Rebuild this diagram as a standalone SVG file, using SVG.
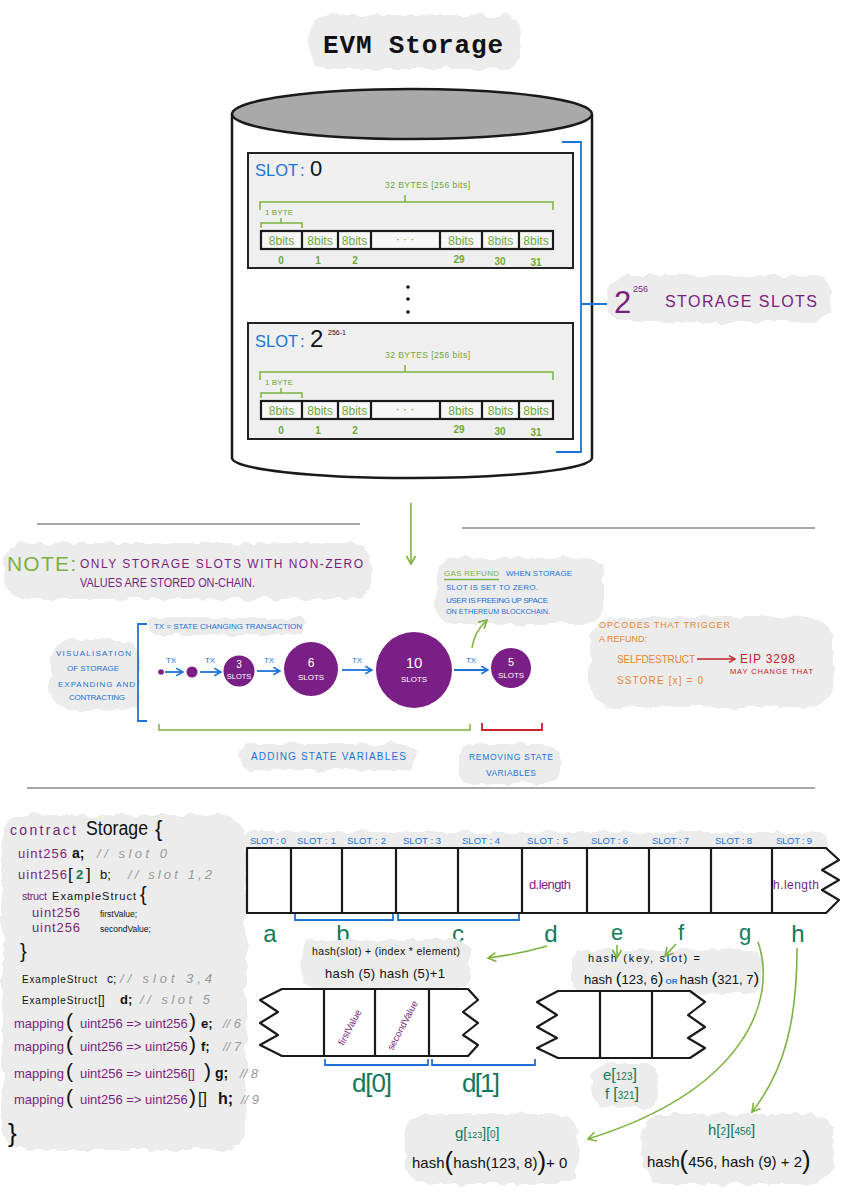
<svg xmlns="http://www.w3.org/2000/svg" width="848" height="1200" viewBox="0 0 848 1200">
<style>
text{font-family:"Liberation Sans","DejaVu Sans",Arial,sans-serif}
.mono{font-family:"Liberation Mono","DejaVu Sans Mono",monospace}
.cl{fill:#ececec;filter:url(#fz)}
.bx{fill:#efefef;stroke:#222;stroke-width:2}
.gb{fill:none;stroke:#7cb342;stroke-width:1.5}
.bb{fill:none;stroke:#1e73d8;stroke-width:1.8}
.rb{fill:none;stroke:#c8202a;stroke-width:1.8}
.cell{fill:#fff;stroke:#1a1a1a;stroke-width:2.2;stroke-linejoin:round}
.ln{fill:none;stroke:#1a1a1a;stroke-width:2.2}
.g8{fill:#6fa83a;font-size:12px;text-anchor:middle}
.gn{fill:#6fa83a;font-size:10px;font-weight:bold;text-anchor:middle}
.bl{fill:#1e73d8}
.pu{fill:#7a1f80}
.tl{fill:#13795b}
.or{fill:#e8843a}
.rd{fill:#c8202a}
.gr{fill:#7cb342}
.cm{fill:#9a9a9a;font-style:italic}
.k{fill:#111}
.wt{fill:#fff;text-anchor:middle}
.sep{stroke:#8a8a8a;stroke-width:1.5}
.ga{fill:none;stroke:#7cb342;stroke-width:1.6}
.ba{fill:none;stroke:#1e73d8;stroke-width:1.8}
.ra{fill:none;stroke:#c8202a;stroke-width:1.6}
.sl{font-size:9.5px;fill:#1e73d8}
.vz{font-size:8px;fill:#1e73d8}
.crc{fill:#7a1f85}
.mid{text-anchor:middle}
</style>
<defs>
<filter id="fz" x="-8%" y="-20%" width="116%" height="140%">
<feTurbulence type="fractalNoise" baseFrequency="0.07" numOctaves="2" seed="7" result="n"/>
<feDisplacementMap in="SourceGraphic" in2="n" scale="10" xChannelSelector="R" yChannelSelector="G"/>
</filter>
<marker id="mg" viewBox="0 0 12 12" refX="10" refY="6" markerWidth="12" markerHeight="12" markerUnits="userSpaceOnUse" orient="auto"><path d="M2,1.5 L10,6 L2,10.5" fill="none" stroke="#7cb342" stroke-width="1.6"/></marker>
<marker id="mb" viewBox="0 0 12 12" refX="10" refY="6" markerWidth="10" markerHeight="10" markerUnits="userSpaceOnUse" orient="auto"><path d="M2,1.5 L10,6 L2,10.5" fill="none" stroke="#1e73d8" stroke-width="1.8"/></marker>
<marker id="mr" viewBox="0 0 12 12" refX="10" refY="6" markerWidth="9" markerHeight="9" markerUnits="userSpaceOnUse" orient="auto"><path d="M2,1.5 L10,6 L2,10.5" fill="none" stroke="#c8202a" stroke-width="1.8"/></marker>
<g id="slotrow">
<text x="385" y="188" fill="#6fa83a" font-size="8.5" textLength="85">32 BYTES [256 bits]</text>
<path class="gb" d="M260,210 V202 H553 V210 M405,202 V195"/>
<text x="265" y="215" fill="#6fa83a" font-size="8" textLength="28">1 BYTE</text>
<path class="gb" d="M261,228 V223 H302 V228 M281,223 V218"/>
<rect x="261" y="231" width="292" height="18" fill="#f7f7f7" stroke="#1a1a1a" stroke-width="2.2"/>
<path class="ln" d="M302,231 V249 M338,231 V249 M371,231 V249 M440,231 V249 M482,231 V249 M519,231 V249"/>
<text class="g8" x="281.5" y="245">8bits</text>
<text class="g8" x="320" y="245">8bits</text>
<text class="g8" x="354.5" y="245">8bits</text>
<text class="g8" x="405" y="243" fill="#8a9a80">·  ·  ·</text>
<text class="g8" x="461" y="245">8bits</text>
<text class="g8" x="500.5" y="245">8bits</text>
<text class="g8" x="536" y="245">8bits</text>
<text class="gn" x="281" y="264">0</text>
<text class="gn" x="318" y="264">1</text>
<text class="gn" x="355" y="264">2</text>
<text class="gn" x="459" y="263">29</text>
<text class="gn" x="500" y="265">30</text>
<text class="gn" x="536" y="266" font-size="11">31</text>
</g>
</defs>
<rect width="848" height="1200" fill="#fff"/>

<g id="title">
<rect class="cl" x="310" y="15" width="212" height="54" rx="18"/>
<text x="323" y="53" class="mono" font-weight="bold" font-size="26" fill="#111" textLength="180">EVM Storage</text>
</g>

<g id="cylinder">
<path d="M232,114 V458 A180,20 0 0 0 592,458 V114" fill="#fff" stroke="#1a1a1a" stroke-width="2.5"/>
<ellipse cx="412" cy="114" rx="180" ry="25" fill="#a9a9a9" stroke="#1a1a1a" stroke-width="2.5"/>
</g>

<g id="slot0">
<rect class="bx" x="248" y="153" width="325" height="115"/>
<text y="176" class="bl" font-size="16.5"><tspan x="255">SLOT</tspan><tspan x="300">:</tspan><tspan x="310" class="k" font-size="22">0</tspan></text>
<use href="#slotrow"/>
</g>

<g id="dots">
<circle cx="408" cy="287" r="1.8" fill="#111"/>
<circle cx="408" cy="299" r="1.8" fill="#111"/>
<circle cx="408" cy="312" r="1.8" fill="#111"/>
</g>

<g id="slotlast">
<rect class="bx" x="248" y="323" width="325" height="116"/>
<text y="347" class="bl" font-size="16.5"><tspan x="255">SLOT</tspan><tspan x="300">:</tspan><tspan x="310" class="k" font-size="24">2</tspan><tspan x="328" dy="-12" class="k" font-size="7">256-1</tspan></text>
<use href="#slotrow" y="170"/>
</g>

<g id="slotsbracket">
<path class="bb" d="M562,142 H581 V452 H556 M581,304 H608"/>
</g>

<g id="storageslots">
<rect class="cl" x="608" y="276" width="222" height="46" rx="16"/>
<text x="614" y="313" class="pu" font-size="31">2</text>
<text x="633" y="292" class="pu" font-size="9">256</text>
<text x="665" y="307" class="pu" font-size="16" textLength="152">STORAGE SLOTS</text>
</g>

<g id="separators">
<line class="sep" x1="37" y1="524" x2="360" y2="524"/>
<line class="sep" x1="462" y1="528" x2="815" y2="528"/>
<line class="sep" x1="27" y1="788" x2="815" y2="788"/>
</g>

<g id="note">
<rect class="cl" x="4" y="543" width="368" height="56" rx="22"/>
<text x="7" y="571" class="gr" font-size="21" textLength="69">NOTE:</text>
<text x="80" y="568" class="pu" font-size="12" textLength="283">ONLY STORAGE SLOTS WITH NON-ZERO</text>
<text x="80" y="587" class="pu" font-size="12" textLength="175" lengthAdjust="spacingAndGlyphs">VALUES ARE STORED ON-CHAIN.</text>
</g>

<g id="gasrefund">
<rect class="cl" x="436" y="558" width="168" height="66" rx="20"/>
<text x="444" y="576" class="gr" font-size="8" textLength="55">GAS REFUND</text>
<line x1="444" y1="579.5" x2="499" y2="579.5" stroke="#7cb342" stroke-width="1.5"/>
<text x="506" y="576" class="bl" font-size="8" textLength="66">WHEN STORAGE</text>
<text x="446" y="590" class="bl" font-size="8" textLength="92">SLOT IS SET TO ZERO.</text>
<text x="446" y="603" class="bl" font-size="8" textLength="102">USER IS FREEING UP SPACE</text>
<text x="446" y="614" class="bl" font-size="8" textLength="104" lengthAdjust="spacingAndGlyphs">ON ETHEREUM BLOCKCHAIN.</text>
</g>

<g id="visualisation">
<rect class="cl" x="50" y="640" width="90" height="70" rx="20"/>
<rect class="cl" x="150" y="618" width="156" height="16" rx="7"/>
<text x="56" y="656" class="vz" font-size="9" textLength="75">VISUALISATION</text>
<text x="67" y="671" class="vz" font-size="9" textLength="52">OF STORAGE</text>
<text x="58" y="687" class="vz" font-size="9" textLength="77">EXPANDING AND</text>
<text x="69" y="700" class="vz" font-size="9" textLength="56">CONTRACTING</text>
<path class="bb" d="M147,624 H138 V721 H147"/>
<text x="154" y="629" class="vz" textLength="148">TX = STATE CHANGING TRANSACTION</text>
<text x="171" y="663" class="vz mid">TX</text>
<text x="210" y="663" class="vz mid">TX</text>
<text x="269" y="663" class="vz mid">TX</text>
<text x="357" y="663" class="vz mid">TX</text>
<text x="471" y="663" class="vz mid">TX</text>
</g>

<g id="state0"><circle class="crc" cx="161" cy="672" r="2.8"/></g>
<g id="state1"><circle class="crc" cx="192" cy="672" r="5.5"/></g>
<g id="state3">
<circle class="crc" cx="239" cy="671" r="15.5"/>
<text class="wt" x="239" y="668" font-size="10">3</text>
<text class="wt" x="239" y="679" font-size="7.5">SLOTS</text>
</g>
<g id="state6">
<circle class="crc" cx="311" cy="669" r="27"/>
<text class="wt" x="311" y="667" font-size="12">6</text>
<text class="wt" x="311" y="680" font-size="8">SLOTS</text>
</g>
<g id="state10">
<circle class="crc" cx="414" cy="670" r="38"/>
<text class="wt" x="414" y="668" font-size="15">10</text>
<text class="wt" x="414" y="682" font-size="8">SLOTS</text>
</g>
<g id="state5">
<circle class="crc" cx="511" cy="668" r="20"/>
<text class="wt" x="511" y="666" font-size="11">5</text>
<text class="wt" x="511" y="678" font-size="8">SLOTS</text>
</g>

<g id="addremove">
<path class="gb" d="M159,724 V730 H470 V724"/>
<path class="rb" d="M482,723 V730 H542 V723"/>
<rect class="cl" x="240" y="744" width="176" height="26" rx="12"/>
<rect class="cl" x="460" y="744" width="100" height="40" rx="14"/>
<text x="251" y="760" class="bl" font-size="10" textLength="155">ADDING STATE VARIABLES</text>
<text x="469" y="760" class="bl" font-size="8.5" textLength="84">REMOVING STATE</text>
<text x="486" y="776" class="bl" font-size="8.5" textLength="50">VARIABLES</text>
</g>

<g id="opcodes">
<rect class="cl" x="590" y="617" width="244" height="90" rx="26"/>
<text x="599" y="628" class="or" font-size="9" textLength="131">OPCODES THAT TRIGGER</text>
<text x="599" y="642" class="or" font-size="9" textLength="48" lengthAdjust="spacingAndGlyphs">A REFUND:</text>
<text x="617" y="663" class="or" font-size="10" textLength="78">SELFDESTRUCT</text>
<text x="740" y="663" class="rd" font-size="12" textLength="55">EIP 3298</text>
<text x="730" y="674" class="rd" font-size="7.5" textLength="83">MAY CHANGE THAT</text>
<text x="617" y="684" class="or" font-size="10" textLength="86">SSTORE [x] = 0</text>
</g>

<g id="contract">
<rect class="cl" x="2" y="815" width="244" height="335" rx="24"/>
<text x="10" y="835" class="pu" font-size="14" textLength="66">contract</text>
<text x="86" y="835" class="k" font-size="20" textLength="62" lengthAdjust="spacingAndGlyphs">Storage</text>
<text x="155" y="836" class="k" font-size="22">{</text>
<text x="18" y="858" class="pu" font-size="13" textLength="49">uint256</text>
<text x="72" y="858" class="k" font-size="14" font-weight="bold">a;</text>
<text x="97" y="858" class="cm" font-size="13" textLength="70">// slot 0</text>
<text x="18" y="879" class="pu" font-size="13" textLength="49">uint256</text>
<text x="68" y="880" class="k" font-size="17">[</text>
<text x="76" y="879" class="tl" font-size="13" font-weight="bold">2</text>
<text x="86" y="880" class="k" font-size="17">]</text>
<text x="100" y="879" class="k" font-size="13">b;</text>
<text x="128" y="879" class="cm" font-size="13" textLength="84">// slot 1,2</text>
<text x="22" y="900" class="pu" font-size="11" textLength="25">struct</text>
<text x="52" y="900" class="k" font-size="11" textLength="84">ExampleStruct</text>
<text x="140" y="901" class="k" font-size="20">{</text>
<text x="32" y="917" class="pu" font-size="13" textLength="48">uint256</text>
<text x="100" y="917" class="k" font-size="8.5">firstValue;</text>
<text x="32" y="932" class="pu" font-size="13" textLength="48">uint256</text>
<text x="100" y="932" class="k" font-size="8.5">secondValue;</text>
<text x="20" y="958" class="k" font-size="20">}</text>
<text x="22" y="983" class="k" font-size="10" textLength="75">ExampleStruct</text>
<text x="107" y="983" class="k" font-size="12">c;</text>
<text x="120" y="983" class="cm" font-size="13" textLength="92">// slot 3,4</text>
<text x="22" y="1004" class="k" font-size="10" textLength="75">ExampleStruct</text>
<text x="98" y="1004" class="k" font-size="12">[]</text>
<text x="120" y="1004" class="k" font-size="13" font-weight="bold">d;</text>
<text x="140" y="1004" class="cm" font-size="13" textLength="70">// slot 5</text>

<text y="1028" class="pu" font-size="13"><tspan x="14">mapping</tspan><tspan x="66" class="k" font-size="21">(</tspan><tspan x="80">uint256 =&gt; uint256</tspan><tspan x="189" class="k" font-size="21">)</tspan><tspan x="201" class="k" font-weight="bold">e;</tspan><tspan x="223" class="cm">// 6</tspan></text>
<text y="1051" class="pu" font-size="13"><tspan x="14">mapping</tspan><tspan x="66" class="k" font-size="21">(</tspan><tspan x="80">uint256 =&gt; uint256</tspan><tspan x="189" class="k" font-size="21">)</tspan><tspan x="201" class="k" font-weight="bold">f;</tspan><tspan x="223" class="cm">// 7</tspan></text>
<text y="1078" class="pu" font-size="13"><tspan x="14">mapping</tspan><tspan x="66" class="k" font-size="21">(</tspan><tspan x="80">uint256 =&gt; uint256[]</tspan><tspan x="204" class="k" font-size="21">)</tspan><tspan x="215" class="k" font-size="14" font-weight="bold">g;</tspan><tspan x="240" class="cm">// 8</tspan></text>
<text y="1104" class="pu" font-size="13"><tspan x="14">mapping</tspan><tspan x="66" class="k" font-size="21">(</tspan><tspan x="80">uint256 =&gt; uint256</tspan><tspan x="189" class="k" font-size="21">)</tspan><tspan x="198" class="k" font-size="16">[]</tspan><tspan x="218" class="k" font-size="16" font-weight="bold">h;</tspan><tspan x="241" class="cm">// 9</tspan></text>
<text x="8" y="1142" class="k" font-size="26">}</text>
</g>

<g id="slotarray">
<rect class="cl" x="246" y="832" width="582" height="18" rx="6"/>
<path class="cell" d="M247,848 H826 L839,860 L822,870 L839,880 L822,890 L839,900 L826,913 H247 Z"/>
<path class="ln" d="M291,848 V913 M342,848 V913 M396,848 V913 M458,848 V913 M522,848 V913 M587,848 V913 M649,848 V913 M711,848 V913 M772,848 V913"/>
<text class="sl" x="250" y="844" textLength="36">SLOT : 0</text>
<text class="sl" x="297" y="844" textLength="39">SLOT : 1</text>
<text class="sl" x="347" y="844" textLength="39">SLOT : 2</text>
<text class="sl" x="403" y="844" textLength="38">SLOT : 3</text>
<text class="sl" x="462" y="844" textLength="38">SLOT : 4</text>
<text class="sl" x="527" y="844" textLength="41">SLOT : 5</text>
<text class="sl" x="591" y="844" textLength="37">SLOT : 6</text>
<text class="sl" x="652" y="844" textLength="37">SLOT : 7</text>
<text class="sl" x="715" y="844" textLength="37">SLOT : 8</text>
<text class="sl" x="776" y="844" textLength="36">SLOT : 9</text>
<text x="529" y="889" class="pu" font-size="13" textLength="42">d.length</text>
<text x="773" y="889" class="pu" font-size="12" textLength="46">h.length</text>
<path class="bb" d="M295,914 V920 H393 V914 M398,914 V920 H519 V914"/>
<text class="tl mid" x="270" y="942" font-size="24">a</text>
<text class="tl mid" x="343" y="942" font-size="24">b</text>
<text class="tl mid" x="458" y="942" font-size="24">c</text>
<text class="tl mid" x="551" y="942" font-size="24">d</text>
<text class="tl mid" x="617" y="940" font-size="22">e</text>
<text class="tl mid" x="681" y="940" font-size="22">f</text>
<text class="tl mid" x="745" y="940" font-size="22">g</text>
<text class="tl mid" x="798" y="942" font-size="24">h</text>
</g>

<g id="darray">
<rect class="cl" x="302" y="940" width="168" height="50" rx="14"/>
<text x="312" y="955" class="k" font-size="10.5" textLength="148">hash(slot) + (index * element)</text>
<text x="325" y="978" class="k" font-size="13" textLength="120">hash (5) hash (5)+1</text>
<path class="cell" d="M282,989 H468 L478,1000 L463,1012 L478,1023 L463,1035 L478,1045 L468,1056 H282 L260,1045 L278,1035 L260,1023 L278,1012 L260,1000 Z"/>
<path class="ln" d="M324,989 V1056 M375,989 V1056 M429,989 V1056"/>
<text x="349" y="1031" class="pu mid" font-size="9.5" transform="rotate(-62 349 1027)">firstValue</text>
<text x="402" y="1029" class="pu mid" font-size="9.5" transform="rotate(-62 402 1025)">secondValue</text>
<path class="bb" d="M325,1059 V1065 H428 V1059 M432,1059 V1065 H535 V1059"/>
<text class="tl" x="352" y="1092" font-size="26" textLength="40">d[0]</text>
<text class="tl" x="462" y="1092" font-size="26" textLength="38">d[1]</text>
</g>

<g id="efarray">
<rect class="cl" x="572" y="950" width="190" height="44" rx="14"/>
<text x="588" y="962" class="k" font-size="11" textLength="112">hash (key, slot) =</text>
<text x="584" y="984" class="k" font-size="13"><tspan>hash </tspan><tspan font-size="17">(</tspan><tspan>123, 6</tspan><tspan font-size="17">)</tspan><tspan class="bl" font-size="8" font-weight="bold"> OR </tspan><tspan>hash </tspan><tspan font-size="17">(</tspan><tspan>321, 7</tspan><tspan font-size="17">)</tspan></text>
<path class="cell" d="M558,991 H690 L705,1002 L688,1015 L705,1027 L688,1038 L705,1048 L690,1058 H558 L537,1048 L557,1038 L537,1027 L557,1015 L537,1002 Z"/>
<path class="ln" d="M600,991 V1058 M652,991 V1058"/>
<rect class="cl" x="592" y="1064" width="66" height="44" rx="14"/>
<text x="603" y="1080" class="tl" font-size="15"><tspan>e</tspan><tspan font-size="16">[</tspan><tspan font-size="10">123</tspan><tspan font-size="16">]</tspan></text>
<text x="605" y="1099" class="tl" font-size="15"><tspan>f </tspan><tspan font-size="16">[</tspan><tspan font-size="10">321</tspan><tspan font-size="16">]</tspan></text>
</g>

<g id="gformula">
<rect class="cl" x="406" y="1114" width="172" height="70" rx="22"/>
<text x="455" y="1138" class="tl" font-size="15"><tspan>g</tspan><tspan font-size="14">[</tspan><tspan font-size="9">123</tspan><tspan font-size="14">]</tspan><tspan font-size="14">[</tspan><tspan font-size="10">0</tspan><tspan font-size="14">]</tspan></text>
<text x="412" y="1168" class="k" font-size="15"><tspan>hash</tspan><tspan font-size="26" dy="2">(</tspan><tspan dy="-2">hash(123, 8)</tspan><tspan font-size="26" dy="2">)</tspan><tspan dy="-2">+ 0</tspan></text>
</g>

<g id="hformula">
<rect class="cl" x="642" y="1114" width="192" height="70" rx="22"/>
<text x="708" y="1135" class="tl" font-size="15"><tspan>h</tspan><tspan font-size="15">[</tspan><tspan font-size="10">2</tspan><tspan font-size="15">][</tspan><tspan font-size="10">456</tspan><tspan font-size="15">]</tspan></text>
<text x="647" y="1167" class="k" font-size="15"><tspan>hash</tspan><tspan font-size="26" dy="2">(</tspan><tspan dy="-2">456, hash (9) + 2</tspan><tspan font-size="26" dy="2">)</tspan></text>
</g>

<g id="connectors">
<line class="ga" x1="411" y1="503" x2="411" y2="564" marker-end="url(#mg)"/>
<line class="ba" x1="165" y1="672" x2="183" y2="672" marker-end="url(#mb)"/>
<line class="ba" x1="200" y1="672" x2="221" y2="672" marker-end="url(#mb)"/>
<line class="ba" x1="257" y1="671" x2="280" y2="671" marker-end="url(#mb)"/>
<line class="ba" x1="342" y1="670" x2="372" y2="670" marker-end="url(#mb)"/>
<line class="ba" x1="454" y1="670" x2="488" y2="670" marker-end="url(#mb)"/>
<path class="ga" d="M472,648 Q474,632 487,620" marker-end="url(#mg)"/>
<line class="ra" x1="697" y1="659" x2="735" y2="659" marker-end="url(#mr)"/>
<path class="ga" d="M547,946 Q520,954 488,958" marker-end="url(#mg)"/>
<line class="ga" x1="617" y1="945" x2="617" y2="958" marker-end="url(#mg)"/>
<line class="ga" x1="676" y1="944" x2="665" y2="956" marker-end="url(#mg)"/>
<path class="ga" d="M758,942 C778,1000 745,1090 588,1139" marker-end="url(#mg)"/>
<path class="ga" d="M797,948 C797,1020 785,1070 752,1112" marker-end="url(#mg)"/>
</g>
</svg>
